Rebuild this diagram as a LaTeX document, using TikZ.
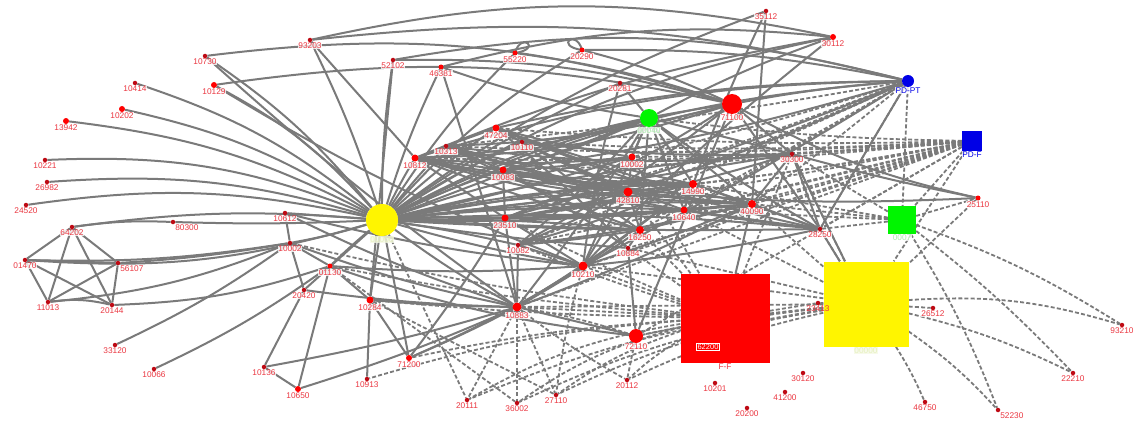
\documentclass[tikz,border=0pt]{standalone}
\usepackage{fontspec}
\setmainfont{Liberation Sans}
\definecolor{eg}{RGB}{122,122,122}
\definecolor{lr}{RGB}{235,55,65}
\definecolor{dr}{RGB}{190,10,20}
\definecolor{bl}{RGB}{0,0,230}
\definecolor{gr}{RGB}{0,245,0}
\definecolor{ye}{RGB}{255,245,0}
\definecolor{pg}{RGB}{170,235,170}
\definecolor{py}{RGB}{230,240,190}
\pgfdeclarelayer{bg}\pgfdeclarelayer{paper}\pgfsetlayers{paper,bg,main}
\begin{document}
\begin{tikzpicture}[x=1pt,y=-1pt,
 e/.style={draw=eg,line width=2pt},
 d/.style={draw=eg,line width=1.8pt,dash pattern=on 4pt off 2.2pt},
 dot/.style={circle,fill=dr,inner sep=0pt,minimum size=4.5pt},
 rd/.style={circle,fill=red,inner sep=0pt,minimum size=#1},
 lab/.style={text=lr,font=\fontsize{8.3}{8.3}\selectfont,inner sep=0.4pt,fill=white,fill opacity=.8,text opacity=1},
 blab/.style={lab,text=bl},
 glab/.style={lab,text=pg},
 ylab/.style={lab,text=py,fill=py!40},
 label distance=0pt]
\begin{pgfonlayer}{paper}
\fill[white] (0,0) rectangle (1136,428);
\end{pgfonlayer}
\useasboundingbox (0,0) rectangle (1136,428);
% ---------- big nodes
\node[circle,fill=ye,minimum size=32pt,inner sep=0pt,label={[ylab]below:00000}] (Y) at (382,220) {};
\node[rectangle,fill=ye,minimum size=85pt,inner sep=0pt,label={[ylab]below:00000}] (YS) at (866,304) {};
\node[rectangle,fill=red,minimum size=89pt,inner sep=0pt,label={[lab,fill=none]below:F-F}] (RS) at (725,318) {};
\node[draw=white,text=white,font=\fontsize{7.5}{8}\selectfont,inner sep=1pt,line width=.8pt] (RSl) at (708,347) {62200};
\node[rectangle,fill=gr,minimum size=28pt,inner sep=0pt,label={[glab]below:0007}] (GS) at (902,220) {};
\node[circle,fill=gr,minimum size=18pt,inner sep=0pt,label={[glab]below:00040}] (GC) at (649,118) {};
\node[circle,fill=red,minimum size=20pt,inner sep=0pt,label={[lab]below:71100}] (RC) at (732,104) {};
\node[circle,fill=bl,minimum size=12pt,inner sep=0pt,label={[blab]below:PD-PT}] (BC) at (908,81) {};
\node[rectangle,fill=bl,minimum size=20pt,inner sep=0pt,label={[blab]below:PD-F}] (BS) at (972,141) {};
% ---------- left
\node[dot,label={[lab]below:93203}] (a93203) at (310,40) {};
\node[dot,label={[lab]below:10730}] (a10730) at (205,56) {};
\node[rd=6pt,label={[lab]below:10129}] (a10129) at (214,85) {};
\node[dot,label={[lab]below:10414}] (a10414) at (135,83) {};
\node[rd=6pt,label={[lab]below:10202}] (a10202) at (122,109) {};
\node[rd=6pt,label={[lab]below:13942}] (a13942) at (66,121) {};
\node[dot,label={[lab]below:10221}] (a10221) at (45,160) {};
\node[dot,label={[lab]below:26982}] (a26982) at (47,182) {};
\node[dot,label={[lab]below:24520}] (a24520) at (26,205) {};
\node[dot,label={[lab]below right:80300}] (a80300) at (173,222) {};
\node[dot,label={[lab]below:64202}] (a64202) at (72,227) {};
\node[dot,label={[lab]below:01470}] (a01470) at (25,260) {};
\node[dot,label={[lab]below right:56107}] (a56107) at (118,263) {};
\node[dot,label={[lab]below:11013}] (a11013) at (48,302) {};
\node[dot,label={[lab]below:20144}] (a20144) at (112,305) {};
\node[dot,label={[lab]below:33120}] (a33120) at (115,345) {};
\node[dot,label={[lab]below:10066}] (a10066) at (154,369) {};
\node[dot,label={[lab]below:10136}] (a10136) at (264,367) {};
\node[rd=6pt,label={[lab]below:10650}] (a10650) at (298,389) {};
\node[dot,label={[lab]below:10913}] (a10913) at (367,379) {};
\node[rd=6pt,label={[lab]below:71200}] (a71200) at (409,358) {};
\node[dot,label={[lab]below:20420}] (a20420) at (304,290) {};
\node[rd=7pt,label={[lab]below:10284}] (a10284) at (370,300) {};
\node[dot,label={[lab]below:10612}] (a10612) at (285,213) {};
\node[dot,label={[lab]below:10002}] (a10002L) at (290,243) {};
\node[rd=5pt,label={[lab]below:01130}] (a01130) at (330,266) {};
% ---------- top
\node[dot,label={[lab]below:52102}] (a52102) at (393,60) {};
\node[rd=5pt,label={[lab]below:46381}] (a46381) at (441,67) {};
\node[rd=5pt,label={[lab]below:55220}] (a55220) at (515,53) {};
\node[rd=5pt,label={[lab]below:20290}] (a20290) at (582,50) {};
\node[dot,label={[lab]below:20281}] (a20281) at (620,83) {};
\node[dot,label={[lab]below:35112}] (a35112) at (766,11) {};
\node[rd=6pt,label={[lab]below:30112}] (a30112) at (833,37) {};
\node[dot,label={[lab]below:30300}] (a30300) at (792,154) {};
\node[rd=5pt,label={[lab]below:25110}] (a25110) at (978,198) {};
% ---------- centre
\node[rd=7pt,label={[lab]below:10812}] (a10812) at (415,158) {};
\node[dot,label={[lab]below:10313}] (a10313) at (446,146) {};
\node[rd=7pt,label={[lab]below:47204}] (a47204) at (496,128) {};
\node[dot,label={[lab]below:10110}] (a10110) at (522,142) {};
\node[rd=7pt,label={[lab]below:10083}] (a10083) at (503,170) {};
\node[rd=7pt,label={[lab]below:23510}] (a23510) at (505,218) {};
\node[dot,label={[lab]below:10082}] (a10082) at (518,245) {};
\node[rd=9pt,label={[lab]below:10210}] (a10210) at (583,266) {};
\node[rd=9pt,label={[lab]below:10883}] (a10883) at (517,307) {};
\node[rd=14pt,label={[lab]below:72110}] (a72110) at (636,336) {};
\node[rd=7pt,label={[lab]below:10002}] (b10002) at (632,157) {};
\node[rd=9pt,label={[lab]below:42810}] (a10011) at (628,192) {};
\node[rd=8pt,label={[lab]below:14990}] (a10990) at (693,184) {};
\node[rd=7pt,label={[lab]below:10640}] (a10640) at (684,210) {};
\node[rd=8pt,label={[lab]below:40090}] (a40090) at (752,204) {};
\node[rd=8pt,label={[lab]below:16250}] (a10250) at (640,230) {};
\node[dot,label={[lab]below:10884}] (a10884) at (628,248) {};
\node[dot,label={[lab]below:28250}] (a28250) at (820,229) {};
% ---------- right / bottom
\node[dot,label={[lab,fill=none]below:23413}] (a23410) at (818,303) {};
\node[dot,label={[lab]below:26512}] (a26512) at (933,308) {};
\node[dot,label={[lab]below:93210}] (a93210) at (1122,325) {};
\node[dot,label={[lab]below:22210}] (a22210) at (1073,373) {};
\node[dot,label={[lab]below right:52230}] (a52230) at (998,410) {};
\node[dot,label={[lab]below:46750}] (a46750) at (925,402) {};
\node[dot,label={[lab]below:41200}] (a41200) at (785,392) {};
\node[dot,label={[lab]below:30120}] (a30120) at (803,373) {};
\node[dot,label={[lab]below:20200}] (a20200) at (747,408) {};
\node[dot,label={[lab]below:10201}] (a10201) at (715,383) {};
\node[dot,label={[lab]below:20112}] (a20112) at (627,380) {};
\node[dot,label={[lab]below:27110}] (a27110) at (556,395) {};
\node[dot,label={[lab]below:36002}] (a36002) at (517,403) {};
\node[dot,label={[lab]below:20111}] (a20111) at (467,400) {};
% ---------- edges
\begin{pgfonlayer}{bg}
\foreach \b/\c in {a93203/-4,a10730/-8,a10129/-10,a10414/-10,a10202/-10,a13942/-10,a10221/-12,a26982/-10,a24520/-10,a80300/2,a64202/-6,a01470/10,a52102/4,a46381/4,a55220/6,a20290/8,RC/10,a30112/10,BC/10,a10812/2,a47204/4,a10313/2,a10110/4,a10083/3,a23510/3,a10082/2,a10210/-3,a10883/-4,GC/6,b10002/5,a10011/4,a10990/5,a10640/4,a40090/4,a10250/3,a10884/-2,a10612/0,a10002L/3,a01130/-2,a10284/0,a20420/0,a30300/5,a28250/4,a71200/0,a35112/8,a20281/5,
 b10002/-2,a40090/-2,a10250/0,a10640/-3,a10990/0,a10011/0,a28250/-2,a30300/0,GC/0}
  \draw[e] (Y) to[bend left=\c] (\b);
\foreach \a/\b/\c in {a01470/a10002L/-5,a11013/a10002L/-8,a20144/a01130/-8,a56107/a10002L/-3,a33120/a10002L/-5,a10066/a01130/-5,a64202/a80300/5,
 a64202/a01470/0,a64202/a56107/0,a64202/a11013/0,a64202/a20144/0,a01470/a56107/0,a01470/a11013/0,a01470/a20144/0,a56107/a11013/0,a56107/a20144/0,a11013/a20144/10,
 a10136/a20420/0,a10136/a10650/0,a10650/a01130/0,a10650/a10883/-3,a10136/a10883/-3,a10913/a10284/0,a71200/a10284/0,a71200/a10883/-2,a71200/a23510/-3,a71200/a10210/-4,a10284/a10883/-2,a20420/a10002L/0,a10612/a10002L/0,a10002L/a01130/0,a01130/a10284/0,a10002L/a10883/-4,a01130/a10210/-4,a01130/a72110/-6,
 a93203/a30112/12,a93203/BC/10,a52102/BC/12,a52102/RC/8,a10129/RC/10,a10730/a10883/-3,a10730/RC/12,a46381/a30112/10,a46381/a10883/0,a55220/RC/5,a20290/RC/5,a20290/BC/6,a52102/a10284/0,a93203/a10812/0,a10129/a10210/-5,
 a35112/a40090/0,a35112/a10640/-3,a30112/a10812/-6,a30112/GC/-4,a30112/a10210/-4,BC/RC/-3,BC/a10812/-8,BC/a47204/-6,BC/a28250/0,a25110/RC/8,a25110/a10083/6,a25110/a30300/2,RC/a72110/0,RC/a28250/0,RC/a30300/0,a20281/a10210/-4,a20281/GC/0,a46381/GC/-5,
 a10812/a10990/-6,a10812/a40090/-6,a10812/a10011/-4,a10812/a10250/-3,a10812/b10002/-5,a10812/a10640/-5,a10812/GC/-6,a10812/RC/-8,a10313/a10011/-4,a10313/a10990/-5,a10313/a40090/-6,a10313/a10250/-3,a10313/a30300/-6,
 a47204/a10011/-3,a47204/a10990/-4,a47204/a40090/-5,a47204/b10002/-3,a47204/a10884/3,a47204/a28250/-5,a10110/a10250/-2,a10110/a10640/-3,a10110/RC/-4,a10110/a30300/-4,
 a10083/a10011/-2,a10083/a10990/-3,a10083/a40090/-4,a10083/a10884/2,a10083/GC/-4,a10083/a28250/-4,a23510/b10002/-4,a23510/a10011/-3,a23510/a10990/-3,a23510/a40090/-3,a23510/a10640/-2,a23510/RC/-6,a23510/a10210/0,a23510/a30300/-4,
 a10082/a10011/-3,a10082/a10250/-2,a10082/a40090/-3,a10082/GC/-4,a10082/a10990/-3,a10210/a10011/0,a10210/a40090/-2,a10210/a10990/-2,a10210/GC/0,a10210/a28250/-3,a10883/a10250/-2,a10883/a23510/0,a10883/a10210/0,a10883/a72110/0,a10883/GC/-3,a10883/a10990/-3,a10883/a40090/-3,
 GC/b10002/0,GC/a10990/0,GC/a40090/0,GC/a10640/0,GC/a30300/0,b10002/a10011/0,a10011/a10250/0,a10250/a10884/0,a10884/a72110/0,a10990/a40090/0,a40090/a30300/0,a40090/a28250/0,a10640/a28250/0,a30300/a28250/0,a30300/YS/0,a40090/RS/0,a28250/YS/0,GC/a28250/-3,a10990/a28250/0,a10250/a40090/0,
 a10812/a23510/0,a10812/a10083/0,a10313/a10083/0,a10313/a47204/0,a47204/a10110/0,a10083/a23510/0,a10083/b10002/-3,a10110/a10011/-2,a10082/a10883/0,a10082/a10210/0,a10612/a10883/-4,a10612/a10210/-4,a20420/a10883/-3,
 a23510/BC/-3,a10083/BC/-4,a10011/BC/-3,a10210/BC/-2,a10313/RC/-6,a10082/RC/-5,a10250/GC/0}
  \draw[e] (\a) to[bend left=\c] (\b);
% loops
\draw[e] (a55220.center) .. controls +(6,-22) and +(28,-4) .. (a55220.center);
\draw[e] (a20290.center) .. controls +(-28,-4) and +(-6,-22) .. (a20290.center);
% dashed
\foreach \b/\c in {a10812/3,a47204/3,a10083/2,a23510/2,b10002/2,a10011/2,a10990/2,a40090/1,a30300/1,a28250/0,GC/3,a10640/1,a10250/1,GS/0,YS/0,a10210/1,a10884/1,a10110/3,a10313/3,a10082/1,a10883/0,a72110/0}
  \draw[d] (BS) to[bend left=\c] (\b);
\foreach \b/\c in {a10313/2,b10002/2,a10011/2,a28250/0,GS/0,a40090/1,a10640/1,a10250/1,a10082/2,a23510/2}
  \draw[d] (BC) to[bend left=\c] (\b);
\foreach \b/\c in {a20111/-10,a36002/-10,a27110/-8,a20112/-6,a10883/0,a72110/0,a10284/2,a10210/0,a01130/3,a10002L/3,a10884/0,a23510/2,a10082/2,a71200/-4,a10913/-6,b10002/0,a10011/0,a10250/0,a23410/0,a30300/0}
  \draw[d] (RS) to[bend left=\c] (\b);
\foreach \b/\c in {a93210/10,a22210/6,a52230/6,a46750/4,a26512/0,a20111/-8,a36002/-8,a27110/-8,a20112/-6,a72110/-3,a10883/0,a10210/0,a28250/0,a30300/0,a23410/0,a10884/0,a10640/0,a40090/0}
  \draw[d] (YS) to[bend left=\c] (\b);
\foreach \b/\c in {a93210/6,a22210/4,a52230/5,a28250/0,a30300/0,a10640/0,a40090/0,a25110/0,a10990/0}
  \draw[d] (GS) to[bend left=\c] (\b);
\foreach \a/\b/\c in {a25110/YS/0,a10883/a20111/0,a10883/a36002/0,Y/a20111/0,a01130/a36002/0,a10284/a27110/0,a10883/a20112/-4,a72110/a20112/0,a10210/a27110/-4,a10883/a27110/0,a10883/a72110/4}
  \draw[d] (\a) to[bend left=\c] (\b);
\end{pgfonlayer}
\end{tikzpicture}
\end{document}
